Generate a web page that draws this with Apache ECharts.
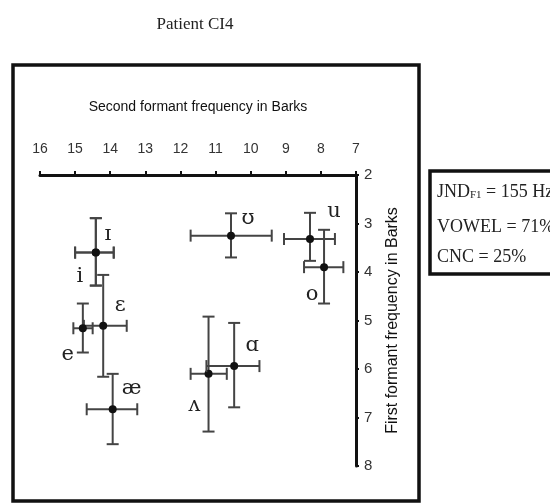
<!DOCTYPE html>
<html>
<head>
<meta charset="utf-8">
<script src="https://cdn.jsdelivr.net/npm/echarts@6/dist/echarts.min.js"></script>
<style>
  html, body { margin: 0; padding: 0; background: #fff; }
  #chart { width: 550px; height: 503px; }
</style>
</head>
<body>
<div id="chart"></div>
<script>
// vowel data, F2 / F1 in Barks
const vowels = ['ɪ', 'i', 'ʊ', 'u', 'o', 'ɛ', 'e', 'æ', 'ʌ', 'ɑ'];
const f2Mean = [14.41, 14.41, 10.56, 8.31, 7.91, 14.2, 14.78, 13.93, 11.2, 10.47];
const f2Low  = [13.9, 13.9, 9.4, 7.6, 7.36, 13.53, 14.5, 13.23, 10.68, 9.75];
const f2High = [15.0, 15.0, 11.71, 9.05, 8.48, 14.75, 15.05, 14.67, 11.71, 11.26];
const f1Mean = [3.6, 3.6, 3.25, 3.32, 3.9, 5.11, 5.16, 6.83, 6.1, 5.94];
const f1Low  = [2.89, 2.89, 2.79, 2.78, 3.13, 4.06, 4.65, 6.1, 4.92, 5.05];
const f1High = [4.28, 4.28, 3.7, 3.77, 4.65, 6.16, 5.66, 7.55, 7.29, 6.79];

const xTicks = ['16', '15', '14', '13', '12', '11', '10', '9', '8', '7'];
const yTicks = ['2', '3', '4', '5', '6', '7', '8'];

const infoLines = ['JND{s|F1} = 155 Hz', 'VOWEL = 71%', 'CNC = 25%'];

// label offsets in px from each point
const labelOffset = {
  'ɪ': [12, -18], 'i': [-16, 24], 'ʊ': [17, -17], 'u': [24, -27], 'o': [-12, 27],
  'ɛ': [17, -20], 'e': [-15, 26], 'æ': [19, -21], 'ʌ': [-14, 32], 'ɑ': [18, -21]
};

const chart = echarts.init(document.getElementById('chart'));

const seriesData = vowels.map((v, i) => [f2Mean[i], f1Mean[i], f2Low[i], f2High[i], f1Low[i], f1High[i], i]);

function renderItem(params, api) {
  const c = api.coord([api.value(0), api.value(1)]);
  const left = api.coord([api.value(3), api.value(1)]);
  const right = api.coord([api.value(2), api.value(1)]);
  const top = api.coord([api.value(0), api.value(4)]);
  const bot = api.coord([api.value(0), api.value(5)]);
  const name = vowels[api.value(6)];
  const off = labelOffset[name];
  const cap = 6;
  const lineStyle = { stroke: '#444', lineWidth: 2 };
  return {
    type: 'group',
    children: [
      { type: 'line', shape: { x1: left[0], y1: c[1], x2: right[0], y2: c[1] }, style: lineStyle },
      { type: 'line', shape: { x1: left[0], y1: c[1] - cap, x2: left[0], y2: c[1] + cap }, style: lineStyle },
      { type: 'line', shape: { x1: right[0], y1: c[1] - cap, x2: right[0], y2: c[1] + cap }, style: lineStyle },
      { type: 'line', shape: { x1: c[0], y1: top[1], x2: c[0], y2: bot[1] }, style: lineStyle },
      { type: 'line', shape: { x1: c[0] - cap, y1: top[1], x2: c[0] + cap, y2: top[1] }, style: lineStyle },
      { type: 'line', shape: { x1: c[0] - cap, y1: bot[1], x2: c[0] + cap, y2: bot[1] }, style: lineStyle },
      { type: 'circle', shape: { cx: c[0], cy: c[1], r: 4 }, style: { fill: '#111' } },
      {
        type: 'text',
        x: c[0] + off[0], y: c[1] + off[1],
        style: {
          text: name, fill: '#222', font: '21px "DejaVu Serif"',
          align: 'center', verticalAlign: 'middle'
        }
      }
    ]
  };
}

const option = {
  backgroundColor: '#fff',
  animation: false,
  grid: { left: 40, right: 194, top: 175, bottom: 37 },
  xAxis: {
    type: 'value', min: 7, max: 16, interval: 1, inverse: true, position: 'top',
    name: 'Second formant frequency in Barks', nameLocation: 'middle', nameGap: 61,
    nameTextStyle: { fontFamily: 'Liberation Sans', fontSize: 14, color: '#111' },
    axisLine: { onZero: false, lineStyle: { color: '#111', width: 3 } },
    axisTick: { show: true, length: 4, lineStyle: { color: '#111', width: 2 } },
    axisLabel: {
      margin: 19, fontFamily: 'Liberation Sans', fontSize: 14, color: '#333',
      formatter: v => xTicks[16 - v]
    },
    splitLine: { show: false }
  },
  yAxis: {
    type: 'value', min: 2, max: 8, interval: 1, inverse: true, position: 'right',
    name: 'First formant frequency in Barks', nameLocation: 'middle', nameGap: 29, nameRotate: 90,
    nameTextStyle: { fontFamily: 'Liberation Sans', fontSize: 16, color: '#111' },
    axisLine: { onZero: false, lineStyle: { color: '#111', width: 3 } },
    axisTick: { show: true, length: 3, lineStyle: { color: '#111', width: 2 } },
    axisLabel: {
      margin: 8, fontFamily: 'Liberation Sans', fontSize: 15, color: '#333',
      formatter: v => yTicks[v - 2]
    },
    splitLine: { show: false }
  },
  series: [{
    type: 'custom',
    renderItem: renderItem,
    data: seriesData,
    clip: false
  }],
  graphic: [
    {
      type: 'text', x: 195, y: 25,
      style: { text: 'Patient CI4', font: '17px "Liberation Serif"', fill: '#222', align: 'center', verticalAlign: 'middle' }
    },
    {
      type: 'rect', shape: { x: 13, y: 65, width: 406, height: 436 },
      style: { fill: 'none', stroke: '#111', lineWidth: 3.5 }
    },
    {
      type: 'rect', shape: { x: 430, y: 171, width: 130, height: 103 },
      style: { fill: 'none', stroke: '#111', lineWidth: 3.5 }
    },
    {
      type: 'text', x: 437, y: 192,
      style: {
        text: infoLines[0], font: '18px "Liberation Serif"', fill: '#222', verticalAlign: 'middle',
        rich: { s: { fontSize: 11, fontFamily: 'Liberation Serif', verticalAlign: 'bottom', padding: [6, 0, 0, 0] } }
      }
    },
    {
      type: 'text', x: 437, y: 227,
      style: { text: infoLines[1], font: '18px "Liberation Serif"', fill: '#222', verticalAlign: 'middle' }
    },
    {
      type: 'text', x: 437, y: 257,
      style: { text: infoLines[2], font: '18px "Liberation Serif"', fill: '#222', verticalAlign: 'middle' }
    }
  ]
};

chart.setOption(option);
</script>
</body>
</html>
